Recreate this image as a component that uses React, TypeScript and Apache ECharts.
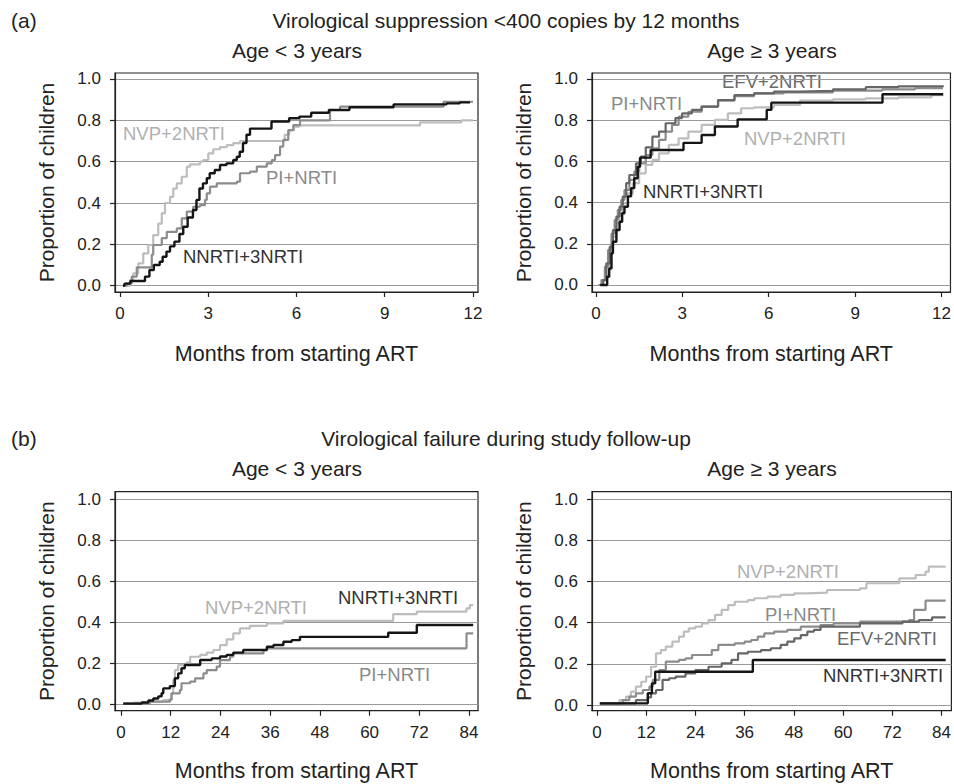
import React, { useEffect, useRef } from "react";
import * as echarts from "echarts";

const FONT = "'Liberation Sans', Arial, Helvetica, sans-serif";

// ---- tick labels ----
const yTicks = [0, 0.2, 0.4, 0.6, 0.8, 1.0];
const xTicksA = [0, 3, 6, 9, 12];
const xTicksB = [0, 12, 24, 36, 48, 60, 72, 84];

// ---- titles / categories ----
const panelTitles = ["Age < 3 years", "Age \u2265 3 years", "Age < 3 years", "Age \u2265 3 years"];
const sectionTitles = ["Virological suppression <400 copies by 12 months", "Virological failure during study follow-up"];
const sectionTags = ["(a)", "(b)"];
const yTitle = "Proportion of children";
const xTitle = "Months from starting ART";
const regimens = ["NVP+2NRTI", "PI+NRTI", "EFV+2NRTI", "NNRTI+3NRTI"];

// ---- (a) Age < 3 years : [months, proportion] ----
const aYoungNVP = [[0.17,0],[0.34,0.027],[0.45,0.06],[0.62,0.108],[0.79,0.156],[0.96,0.197],[1.13,0.245],[1.3,0.3],[1.42,0.35],[1.53,0.4],[1.7,0.43],[1.81,0.47],[1.93,0.495],[2.1,0.527],[2.27,0.576],[2.38,0.587],[2.72,0.6],[2.83,0.608],[3.0,0.64],[3.17,0.66],[3.4,0.67],[3.63,0.68],[3.85,0.69],[4.08,0.7],[5.6,0.73],[5.75,0.753],[5.92,0.77],[6.1,0.776],[10.2,0.79],[11.6,0.8],[12.0,0.8]];
const aYoungPI = [[0.17,0],[0.23,0.011],[0.4,0.044],[0.57,0.089],[1.08,0.15],[1.13,0.197],[1.42,0.23],[1.59,0.26],[1.93,0.277],[2.1,0.326],[2.27,0.358],[2.49,0.382],[2.72,0.39],[2.89,0.415],[2.95,0.447],[3.06,0.479],[3.29,0.495],[3.97,0.503],[4.08,0.544],[4.42,0.552],[4.65,0.576],[4.99,0.592],[5.16,0.608],[5.27,0.632],[5.44,0.673],[5.55,0.705],[5.72,0.753],[5.89,0.777],[6.12,0.8],[7.14,0.85],[7.48,0.866],[11.0,0.89],[12.0,0.89]];
const aYoungNNRTI = [[0.1,0],[0.15,0.01],[0.35,0.023],[0.85,0.044],[1.0,0.076],[1.15,0.1],[1.35,0.116],[1.45,0.14],[1.58,0.165],[1.7,0.19],[1.85,0.213],[2.02,0.25],[2.15,0.285],[2.3,0.33],[2.48,0.366],[2.6,0.415],[2.7,0.47],[2.82,0.495],[2.95,0.52],[3.05,0.544],[3.22,0.56],[3.4,0.584],[3.62,0.592],[3.85,0.608],[3.97,0.624],[4.07,0.648],[4.18,0.69],[4.3,0.73],[4.42,0.76],[5.15,0.794],[5.75,0.81],[6.1,0.818],[6.5,0.837],[7.1,0.85],[7.8,0.863],[9.3,0.877],[11.1,0.882],[11.55,0.887],[11.9,0.887]];

// ---- (a) Age >= 3 years ----
const aOldNVP = [[0.08,0],[0.25,0.024],[0.36,0.089],[0.48,0.162],[0.59,0.235],[0.71,0.3],[0.82,0.348],[0.93,0.396],[1.11,0.445],[1.28,0.494],[1.5,0.542],[1.73,0.583],[1.96,0.607],[2.19,0.639],[2.53,0.68],[2.87,0.712],[3.21,0.744],[3.67,0.777],[4.13,0.801],[4.58,0.833],[5.04,0.858],[5.49,0.862],[6.18,0.874],[7.09,0.895],[8.23,0.901],[9.37,0.906],[10.5,0.911],[11.65,0.922],[12.05,0.93]];
const aOldPI = [[0.08,0],[0.19,0.024],[0.31,0.089],[0.42,0.17],[0.54,0.25],[0.65,0.316],[0.76,0.364],[0.88,0.413],[0.99,0.461],[1.16,0.51],[1.33,0.55],[1.5,0.59],[1.73,0.631],[1.96,0.663],[2.19,0.704],[2.42,0.744],[2.64,0.777],[2.87,0.817],[3.21,0.841],[3.67,0.866],[4.24,0.895],[4.81,0.917],[5.49,0.93],[6.52,0.935],[8.23,0.943],[9.94,0.95],[11.08,0.955],[12.05,0.958]];
const aOldEFV = [[0.14,0],[0.25,0.024],[0.36,0.105],[0.48,0.186],[0.59,0.267],[0.71,0.332],[0.82,0.38],[0.93,0.429],[1.05,0.494],[1.16,0.534],[1.39,0.59],[1.56,0.623],[1.73,0.668],[1.96,0.72],[2.19,0.744],[2.42,0.785],[2.76,0.81],[2.99,0.833],[3.33,0.85],[3.67,0.866],[4.24,0.898],[4.81,0.922],[5.49,0.93],[6.18,0.939],[7.09,0.942],[8.23,0.95],[9.37,0.96],[10.5,0.964],[12.05,0.968]];
const aOldNNRTI = [[0.15,0],[0.34,0.0],[0.39,0.04],[0.46,0.08],[0.54,0.154],[0.59,0.21],[0.71,0.267],[0.82,0.307],[0.91,0.348],[0.99,0.38],[1.11,0.43],[1.22,0.47],[1.33,0.518],[1.45,0.574],[1.53,0.618],[1.9,0.655],[3.04,0.69],[3.67,0.728],[4.13,0.769],[4.92,0.804],[5.93,0.85],[6.09,0.885],[9.95,0.926],[12.05,0.926]];

// ---- (b) Age < 3 years ----
const bYoungNVP = [[0.56,0.005],[3.0,0.01],[7.0,0.016],[10.2,0.022],[12.2,0.055],[12.6,0.12],[13.0,0.168],[13.8,0.193],[15.8,0.204],[16.7,0.233],[19.1,0.242],[20.7,0.253],[22.3,0.266],[23.9,0.29],[25.5,0.318],[27.1,0.347],[28.7,0.371],[31.1,0.383],[35.2,0.396],[39.2,0.408],[65.7,0.441],[71.4,0.453],[83.4,0.469],[84.2,0.485],[85.0,0.485]];
const bYoungPI = [[0.56,0.005],[7.0,0.014],[11.8,0.025],[12.2,0.055],[14.2,0.071],[14.6,0.104],[16.7,0.112],[17.9,0.128],[19.9,0.152],[20.7,0.168],[23.1,0.185],[23.9,0.217],[26.3,0.234],[27.1,0.25],[34.4,0.266],[35.2,0.274],[83.4,0.347],[85.0,0.347]];
const bYoungNNRTI = [[0.56,0.005],[4.99,0.01],[6.6,0.02],[7.8,0.03],[9.0,0.04],[9.8,0.055],[10.2,0.079],[11.8,0.09],[13.0,0.128],[13.8,0.152],[14.6,0.177],[15.4,0.193],[19.1,0.217],[21.9,0.225],[23.9,0.234],[25.5,0.242],[27.1,0.253],[29.5,0.266],[35.2,0.282],[36.8,0.29],[39.2,0.306],[41.2,0.314],[43.2,0.33],[64.5,0.35],[71.4,0.388],[85.0,0.388]];

// ---- (b) Age >= 3 years ----
const bOldNVP = [[0.72,0.008],[5.5,0.024],[7.1,0.041],[8.3,0.065],[9.5,0.089],[10.8,0.113],[12.0,0.138],[13.2,0.186],[14.4,0.251],[15.6,0.267],[16.8,0.284],[18.4,0.308],[20.0,0.332],[21.2,0.357],[22.4,0.373],[24.0,0.381],[25.6,0.397],[27.2,0.413],[28.8,0.438],[30.4,0.462],[32.0,0.486],[33.6,0.502],[36.8,0.51],[38.4,0.519],[41.6,0.527],[44.8,0.535],[48.1,0.543],[51.3,0.546],[56.1,0.559],[64.1,0.567],[65.7,0.592],[73.7,0.616],[77.7,0.632],[80.1,0.648],[80.9,0.673],[85.0,0.673]];
const bOldPI = [[0.72,0.008],[6.3,0.024],[7.9,0.041],[9.5,0.057],[11.2,0.073],[12.8,0.089],[13.6,0.122],[15.2,0.17],[16.8,0.211],[20.0,0.219],[21.6,0.227],[23.2,0.243],[28.0,0.267],[29.6,0.292],[33.6,0.3],[36.0,0.308],[37.6,0.316],[39.2,0.332],[40.8,0.348],[43.2,0.357],[46.4,0.365],[49.7,0.381],[54.5,0.389],[57.7,0.397],[64.1,0.405],[76.1,0.413],[77.3,0.462],[80.1,0.507],[85.0,0.507]];
const bOldEFV = [[0.72,0.008],[9.5,0.024],[12.4,0.037],[13.2,0.057],[14.4,0.073],[16.0,0.122],[17.6,0.13],[19.2,0.138],[21.6,0.154],[24.0,0.17],[27.2,0.186],[30.4,0.203],[32.8,0.219],[34.4,0.251],[36.8,0.259],[40.0,0.267],[42.4,0.276],[44.8,0.292],[46.4,0.308],[48.1,0.324],[49.7,0.34],[51.3,0.357],[52.9,0.365],[54.5,0.381],[64.1,0.397],[74.5,0.405],[78.5,0.413],[81.7,0.426],[85.0,0.426]];
const bOldNNRTI = [[0.72,0.008],[12.4,0.057],[13.4,0.105],[14.2,0.162],[38.0,0.219],[85.0,0.219]];

// ---- styling ----
const COLORS: Record<string, string> = {
  "NVP+2NRTI": "#bdbdbd",
  "PI+NRTI": "#8c8c8c",
  "EFV+2NRTI": "#666666",
  "NNRTI+3NRTI": "#151515",
};
const LABEL_COLORS: Record<string, string> = {
  "NVP+2NRTI": "#b0b0b0",
  "PI+NRTI": "#8a8a8a",
  "EFV+2NRTI": "#6a6a6a",
  "NNRTI+3NRTI": "#333333",
};

// layout (pixels) of each panel frame and its axis extent
const panels = [
  { left: 115, top: 73, width: 363, height: 219, xMin: -0.17, xMax: 12.17, yMin: -0.0305, yMax: 1.029, ticks: xTicksA, nameGap: 51, titleX: 297 },
  { left: 592, top: 73, width: 364, height: 219, xMin: -0.137, xMax: 12.31, yMin: -0.034, yMax: 1.029, ticks: xTicksA, nameGap: 51, titleX: 772 },
  { left: 115, top: 491.7, width: 363, height: 219, xMin: -1.45, xMax: 86.17, yMin: -0.0297, yMax: 1.037, ticks: xTicksB, nameGap: 49, titleX: 297 },
  { left: 592, top: 491.7, width: 364, height: 219, xMin: -1.2, xMax: 86.4, yMin: -0.0277, yMax: 1.037, ticks: xTicksB, nameGap: 49, titleX: 772 },
];

const panelSeries: { name: string; data: number[][] }[][] = [
  [
    { name: "NVP+2NRTI", data: aYoungNVP },
    { name: "PI+NRTI", data: aYoungPI },
    { name: "NNRTI+3NRTI", data: aYoungNNRTI },
  ],
  [
    { name: "NVP+2NRTI", data: aOldNVP },
    { name: "PI+NRTI", data: aOldPI },
    { name: "EFV+2NRTI", data: aOldEFV },
    { name: "NNRTI+3NRTI", data: aOldNNRTI },
  ],
  [
    { name: "NVP+2NRTI", data: bYoungNVP },
    { name: "PI+NRTI", data: bYoungPI },
    { name: "NNRTI+3NRTI", data: bYoungNNRTI },
  ],
  [
    { name: "NVP+2NRTI", data: bOldNVP },
    { name: "PI+NRTI", data: bOldPI },
    { name: "EFV+2NRTI", data: bOldEFV },
    { name: "NNRTI+3NRTI", data: bOldNNRTI },
  ],
];

// curve label placements (pixels: left x, middle y)
const curveLabels = [
  { text: "NVP+2NRTI", x: 123, y: 133 },
  { text: "PI+NRTI", x: 266, y: 177 },
  { text: "NNRTI+3NRTI", x: 183, y: 256 },
  { text: "EFV+2NRTI", x: 722, y: 81 },
  { text: "PI+NRTI", x: 611, y: 103 },
  { text: "NVP+2NRTI", x: 744, y: 138 },
  { text: "NNRTI+3NRTI", x: 643, y: 191 },
  { text: "NNRTI+3NRTI", x: 338, y: 597 },
  { text: "NVP+2NRTI", x: 205, y: 607 },
  { text: "PI+NRTI", x: 359, y: 674 },
  { text: "NVP+2NRTI", x: 737, y: 571 },
  { text: "PI+NRTI", x: 765, y: 614 },
  { text: "EFV+2NRTI", x: 837, y: 638 },
  { text: "NNRTI+3NRTI", x: 823, y: 675 },
];

function textEl(text: string, x: number, y: number, size: number, color: string, align: string) {
  return {
    type: "text",
    x,
    y,
    silent: true,
    style: {
      text,
      fill: color,
      fontSize: size,
      fontFamily: FONT,
      align,
      textAlign: align,
      verticalAlign: "middle",
      textVerticalAlign: "middle",
    },
  };
}

export default function App() {
  const ref = useRef<HTMLDivElement>(null);

  useEffect(() => {
    if (!ref.current) return;
    const chart = echarts.init(ref.current, undefined, { renderer: "svg" });

    const grid = panels.map((p) => ({
      left: p.left,
      top: p.top,
      width: p.width,
      height: p.height,
      show: true,
      borderColor: "#222",
      borderWidth: 1.2,
      backgroundColor: "transparent",
      containLabel: false,
    }));

    const xAxis = panels.map((p, i) => ({
      type: "value",
      gridIndex: i,
      min: p.xMin,
      max: p.xMax,
      axisLine: { show: true, onZero: false, lineStyle: { color: "#222", width: 1.2 } },
      axisTick: { show: true, length: 5, customValues: p.ticks, lineStyle: { color: "#222", width: 1.2 } },
      axisLabel: { customValues: p.ticks, margin: 13, fontSize: 17, color: "#222", fontFamily: FONT },
      splitLine: { show: false },
      name: xTitle,
      nameLocation: "middle",
      nameGap: p.nameGap,
      nameTextStyle: { fontSize: 21.5, color: "#222", fontFamily: FONT },
    }));

    const yAxis = panels.map((p, i) => ({
      type: "value",
      gridIndex: i,
      min: p.yMin,
      max: p.yMax,
      axisLine: { show: true, onZero: false, lineStyle: { color: "#222", width: 1.2 } },
      axisTick: { show: true, length: 5, customValues: yTicks, lineStyle: { color: "#222", width: 1.2 } },
      axisLabel: {
        customValues: yTicks,
        margin: 14,
        fontSize: 17,
        color: "#222",
        fontFamily: FONT,
        formatter: (v: number) => v.toFixed(1),
      },
      splitLine: { show: true, lineStyle: { color: "#9a9a9a", width: 1.2 } },
      name: yTitle,
      nameLocation: "middle",
      nameGap: 58,
      nameTextStyle: { fontSize: 21, color: "#222", fontFamily: FONT },
    }));

    const series: any[] = [];
    panelSeries.forEach((list, i) => {
      list.forEach((s) => {
        series.push({
          type: "line",
          name: s.name,
          xAxisIndex: i,
          yAxisIndex: i,
          step: "end",
          data: s.data,
          showSymbol: false,
          symbol: "none",
          silent: true,
          lineStyle: { color: COLORS[s.name], width: s.name === "NNRTI+3NRTI" ? 2.4 : 2.2 },
          z: 2 + regimens.indexOf(s.name),
        });
      });
    });

    const graphic: any[] = [];
    graphic.push(textEl(sectionTags[0], 11, 20, 21, "#222", "left"));
    graphic.push(textEl(sectionTitles[0], 506, 20, 21, "#222", "center"));
    graphic.push(textEl(sectionTags[1], 11, 438, 21, "#222", "left"));
    graphic.push(textEl(sectionTitles[1], 506, 438, 21, "#222", "center"));
    panels.forEach((p, i) => {
      graphic.push(textEl(panelTitles[i], p.titleX, p.top - 23, 21, "#222", "center"));
    });
    curveLabels.forEach((l) => {
      graphic.push(textEl(l.text, l.x, l.y, 18.5, LABEL_COLORS[l.text], "left"));
    });

    chart.setOption({
      animation: false,
      backgroundColor: "#ffffff",
      grid,
      xAxis,
      yAxis,
      series,
      graphic,
      tooltip: { show: false },
    });

    return () => chart.dispose();
  }, []);

  return (
    <div
      ref={ref}
      style={{ position: "absolute", left: 0, top: 0, width: 954, height: 784 }}
    />
  );
}
